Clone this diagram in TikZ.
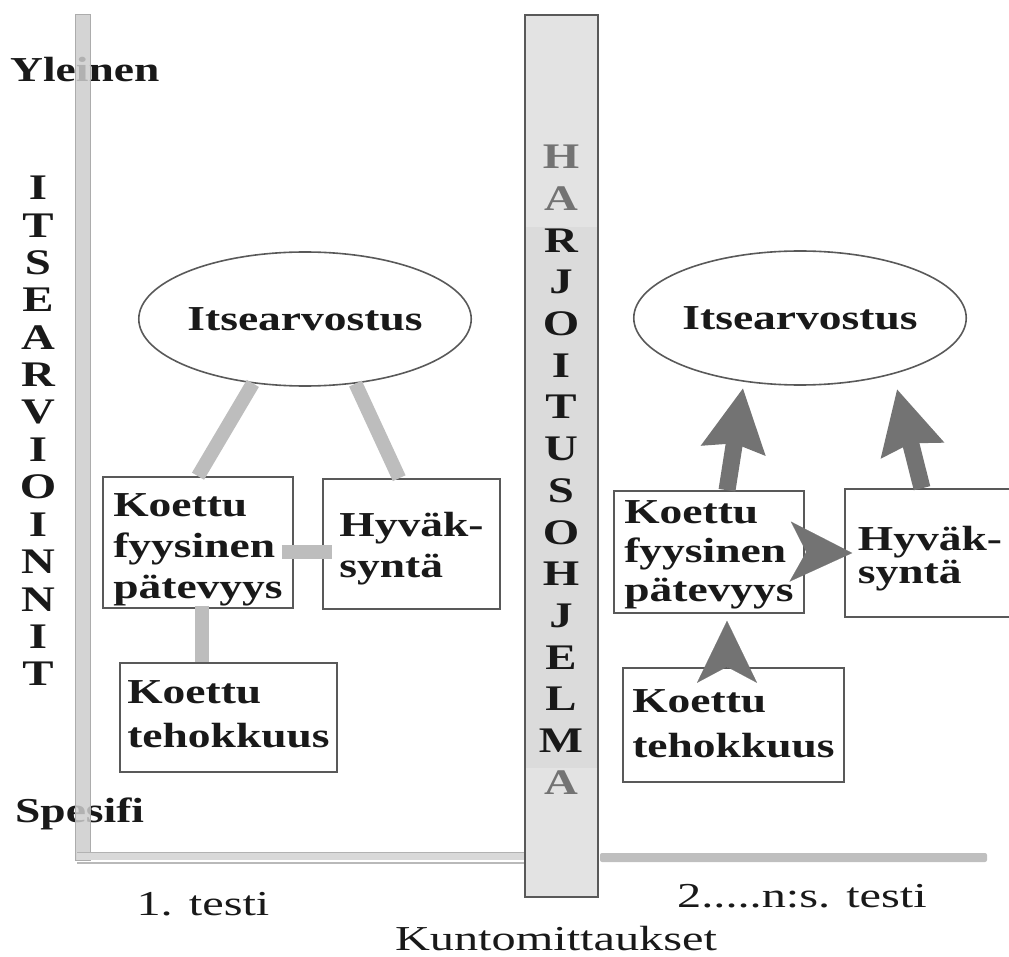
\documentclass[tikz,border=0pt]{standalone}
\usepackage{fontspec}
\setmainfont{Liberation Serif}
\newfontfamily\wideserif[FakeStretch=1.3]{Liberation Serif}
\newfontfamily\wideserifR[FakeStretch=1.38]{Liberation Serif}
\usetikzlibrary{arrows.meta,shapes.geometric,calc}

\definecolor{ink}{gray}{0.1}
\definecolor{frame}{gray}{0.35}
\definecolor{barfill}{gray}{0.8}
\definecolor{linkgray}{gray}{0.74}
\definecolor{arrowgray}{gray}{0.45}
\definecolor{lettergray}{gray}{0.45}

\tikzset{
  lbl/.style={font=\wideserif\bfseries\fontsize{35}{41}\selectfont, text=ink},
  axislbl/.style={font=\wideserifR\fontsize{35}{42}\selectfont, text=ink, inner sep=0pt},
  pillar/.style={font=\wideserif\bfseries\fontsize{36}{40}\selectfont, inner sep=0pt},
  box/.style={lbl, draw=frame, line width=1.6pt, fill=white, align=left, inner sep=0pt, text depth=0pt},
  oval/.style={lbl, ellipse, draw=frame, line width=1.6pt, inner sep=0pt},
  link/.style={draw=linkgray, line width=14pt},
  bigarrow/.style={draw=arrowgray, line width=17pt, -{Stealth[length=62pt,width=62pt,inset=6pt]}},
  headonly/.style={draw=arrowgray, line width=0.1pt, -{Stealth[length=62pt,width=60pt,inset=16pt]}},
}

\begin{document}
\begin{tikzpicture}[x=1pt,y=-1pt]
\useasboundingbox (0,0) rectangle (1009,957);

% axis labels on the left
\node[lbl, anchor=base west, inner sep=0pt] (yl) at (10,82) {Yleinen};
\node[lbl, anchor=base west, inner sep=0pt] (sp) at (15,822) {Spesifi};
\foreach \ch [count=\i from 0] in {I,T,S,E,A,R,V,I,O,I,N,N,I,T}
  \node[pillar, text=ink] (v\i) at (38,{188+37.4*\i}) {\ch};

% vertical axis bar
\path[fill=barfill, fill opacity=0.85, draw=gray!65, line width=1pt] (75,15) rectangle (90,860);

% horizontal axis
\fill[gray!30] (77,852) rectangle (525,860);
\draw[gray!60, line width=1pt] (77,852) -- (525,852);
\draw[gray!55, line width=1.6pt] (77,863) -- (525,863);
\fill[gray!50, rounded corners=2pt] (600,853) rectangle (987,862);

% training programme pillar
\draw[frame, fill=gray!28, line width=1.4pt] (525,15) rectangle (598,897);
\fill[gray!22] (526,16) rectangle (597,227);
\fill[gray!22] (526,768) rectangle (597,896);
\foreach \ch/\col [count=\i from 0] in {H/lettergray,A/lettergray,R/ink,J/ink,O/ink,I/ink,T/ink,U/ink,S/ink,O/ink,H/ink,J/ink,E/ink,L/ink,M/ink,A/lettergray}
  \node[pillar, text=\col] (h\i) at (561,{157+41.7*\i}) {\ch};

% first test (text height = twice the drop from centre to last baseline)
\node[oval, minimum width=290, minimum height=134] (e1) at (305,319) {Itsearvostus};
\node[box, minimum width=190, minimum height=131, text height=111pt] (b1L) at (198,542.5) {Koettu\\fyysinen\\pätevyys};
\node[box, minimum width=177, minimum height=130, text height=66pt] (b2L) at (411.5,544) {Hyväk-\\syntä};
\node[box, minimum width=217, minimum height=109, text height=59pt] (b3L) at (228.5,717.5) {Koettu\\[3pt]tehokkuus};

\coordinate (c4) at ($(b1L.south)+(4,0)$);
\draw[link] (e1.231) -- (b1L.north);
\draw[link] (e1.308) -- ($(b2L.north west)+(77,0)$);
\draw[link] ($(b1L.east)+(-12,9.5)$) -- ($(b2L.west)+(10,8)$);
\draw[link] ($(c4)+(0,-3)$) -- (c4 |- b3L.north);

% second and later tests
\node[oval, minimum width=296, minimum height=134] (e2) at (800,318) {Itsearvostus};
\node[box, minimum width=190, minimum height=122, text height=98pt] (b1R) at (709,552) {Koettu\\[-2pt]fyysinen\\[-2pt]pätevyys};
\node[box, minimum width=170, minimum height=128, text height=60pt] (b2R) at (930,553) {Hyväk-\\[-8pt]syntä};
\node[box, minimum width=221, minimum height=114, text height=64pt] (b3R) at (733.5,725) {Koettu\\[4pt]tehokkuus};

\coordinate (tA) at (743,388);
\coordinate (tB) at (897,389);
\draw[bigarrow] ($(b1R.north)+(18,0)$) -- (tA);
\draw[bigarrow] ($(b2R.north)+(-8,0)$) -- (tB);
\draw[headonly] ($(b1R.east)+(3,0)$) -- ($(b2R.west)+(8,0)$);
\draw[headonly] ($(b1R.south)+(18,53)$) -- ($(b1R.south)+(18,7)$);

% bottom labels
\node[axislbl, anchor=base] (t1) at (203,915) {1. testi};
\node[axislbl, anchor=base] (t2) at (802,907) {2.....n:s. testi};
\node[axislbl, anchor=base] (km) at (556,950) {Kuntomittaukset};
\end{tikzpicture}
\end{document}
